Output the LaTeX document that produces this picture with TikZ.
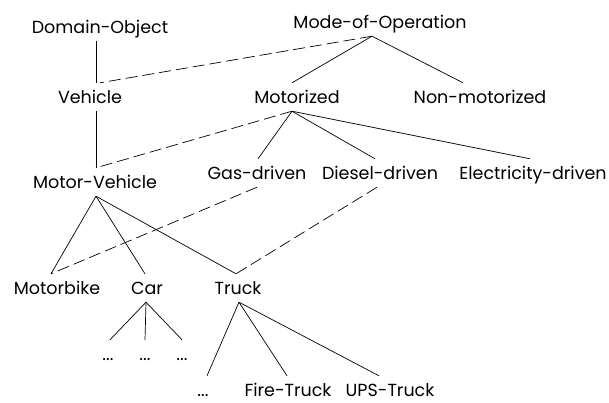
\documentclass[tikz,border=0pt]{standalone}
\usepackage{fontspec}
\setmainfont{Poppins}
\begin{document}
\begin{tikzpicture}[x=1pt,y=-1pt,
  lbl/.style={anchor=base, inner xsep=0pt, inner ysep=8pt, text height=12pt, text depth=0pt,
              font=\fontsize{17.5}{20}\selectfont},
  lowlbl/.style={lbl, inner ysep=1pt, text height=19pt},
  isa/.style={line width=0.7pt},
  role/.style={line width=0.7pt, dash pattern=on 12pt off 5pt}]
\useasboundingbox (0,0) rectangle (609,402);
% nodes
\node[lbl] (dobj)  at (100,33)  {Domain-Object};
\node[lbl] (mop)   at (380,28)  {Mode-of-Operation};
\node[lbl] (veh)   at (90,103)  {Vehicle};
\node[lbl] (motz)  at (297,103) {Motorized};
\node[lbl] (nonm)  at (480,103) {Non-motorized};
\node[lbl] (mveh)  at (95,188)  {Motor-Vehicle};
\node[lbl] (gas)   at (257,179) {Gas-driven};
\node[lbl] (dies)  at (380,179) {Diesel-driven};
\node[lbl] (elec)  at (533,179) {Electricity-driven};
\node[lbl] (mbike) at (57,294)  {Motorbike};
\node[lbl] (car)   at (147,294) {Car};
\node[lbl] (truck) at (238,294) {Truck};
\node[lbl] (c1)    at (108,360) {...};
\node[lbl] (c2)    at (145,360) {...};
\node[lbl] (c3)    at (182,360) {...};
\node[lowlbl] (t1) at (203,396) {...};
\node[lowlbl] (t2) at (288,396) {Fire-Truck};
\node[lowlbl] (t3) at (390,396) {UPS-Truck};
% solid connectors
\draw[isa] ([xshift=-4pt]dobj.south) -- ([xshift=6pt]veh.north);
\draw[isa] ([xshift=6pt]veh.south) -- ([xshift=1pt]mveh.north);
\draw[isa] ([xshift=-8pt]mop.south) -- ([xshift=-5pt]motz.north);
\draw[isa] ([xshift=-8pt]mop.south) -- ([xshift=-17pt]nonm.north);
\draw[isa] ([xshift=-5pt]motz.south) -- ([xshift=1pt]gas.north);
\draw[isa] ([xshift=-5pt]motz.south) -- ([xshift=-5pt]dies.north);
\draw[isa] ([xshift=-5pt]motz.south) -- ([xshift=-3pt]elec.north);
\draw[isa] ([xshift=1pt]mveh.south) -- ([xshift=-6pt]mbike.north);
\draw[isa] ([xshift=1pt]mveh.south) -- ([xshift=-2pt]car.north);
\draw[isa] ([xshift=1pt]mveh.south) -- ([xshift=-2pt]truck.north);
\draw[isa] ([xshift=-1pt]car.south) -- ([xshift=2pt]c1.north);
\draw[isa] ([xshift=-1pt]car.south) -- (c2.north);
\draw[isa] ([xshift=-1pt]car.south) -- (c3.north);
\draw[isa] ([xshift=1pt]truck.south) -- ([xshift=4pt]t1.north);
\draw[isa] ([xshift=1pt]truck.south) -- ([xshift=-1pt]t2.north);
\draw[isa] ([xshift=1pt]truck.south) -- ([xshift=-11pt]t3.north);
% dashed connectors
\draw[role] ([xshift=-8pt]mop.south) -- ([xshift=10pt]veh.north);
\draw[role] ([xshift=-5pt]motz.south) -- ([xshift=1pt]mveh.north);
\draw[role] (gas.south) -- ([xshift=-6pt]mbike.north);
\draw[role] ([xshift=-3pt]dies.south) -- ([xshift=-2pt]truck.north);
\end{tikzpicture}
\end{document}
